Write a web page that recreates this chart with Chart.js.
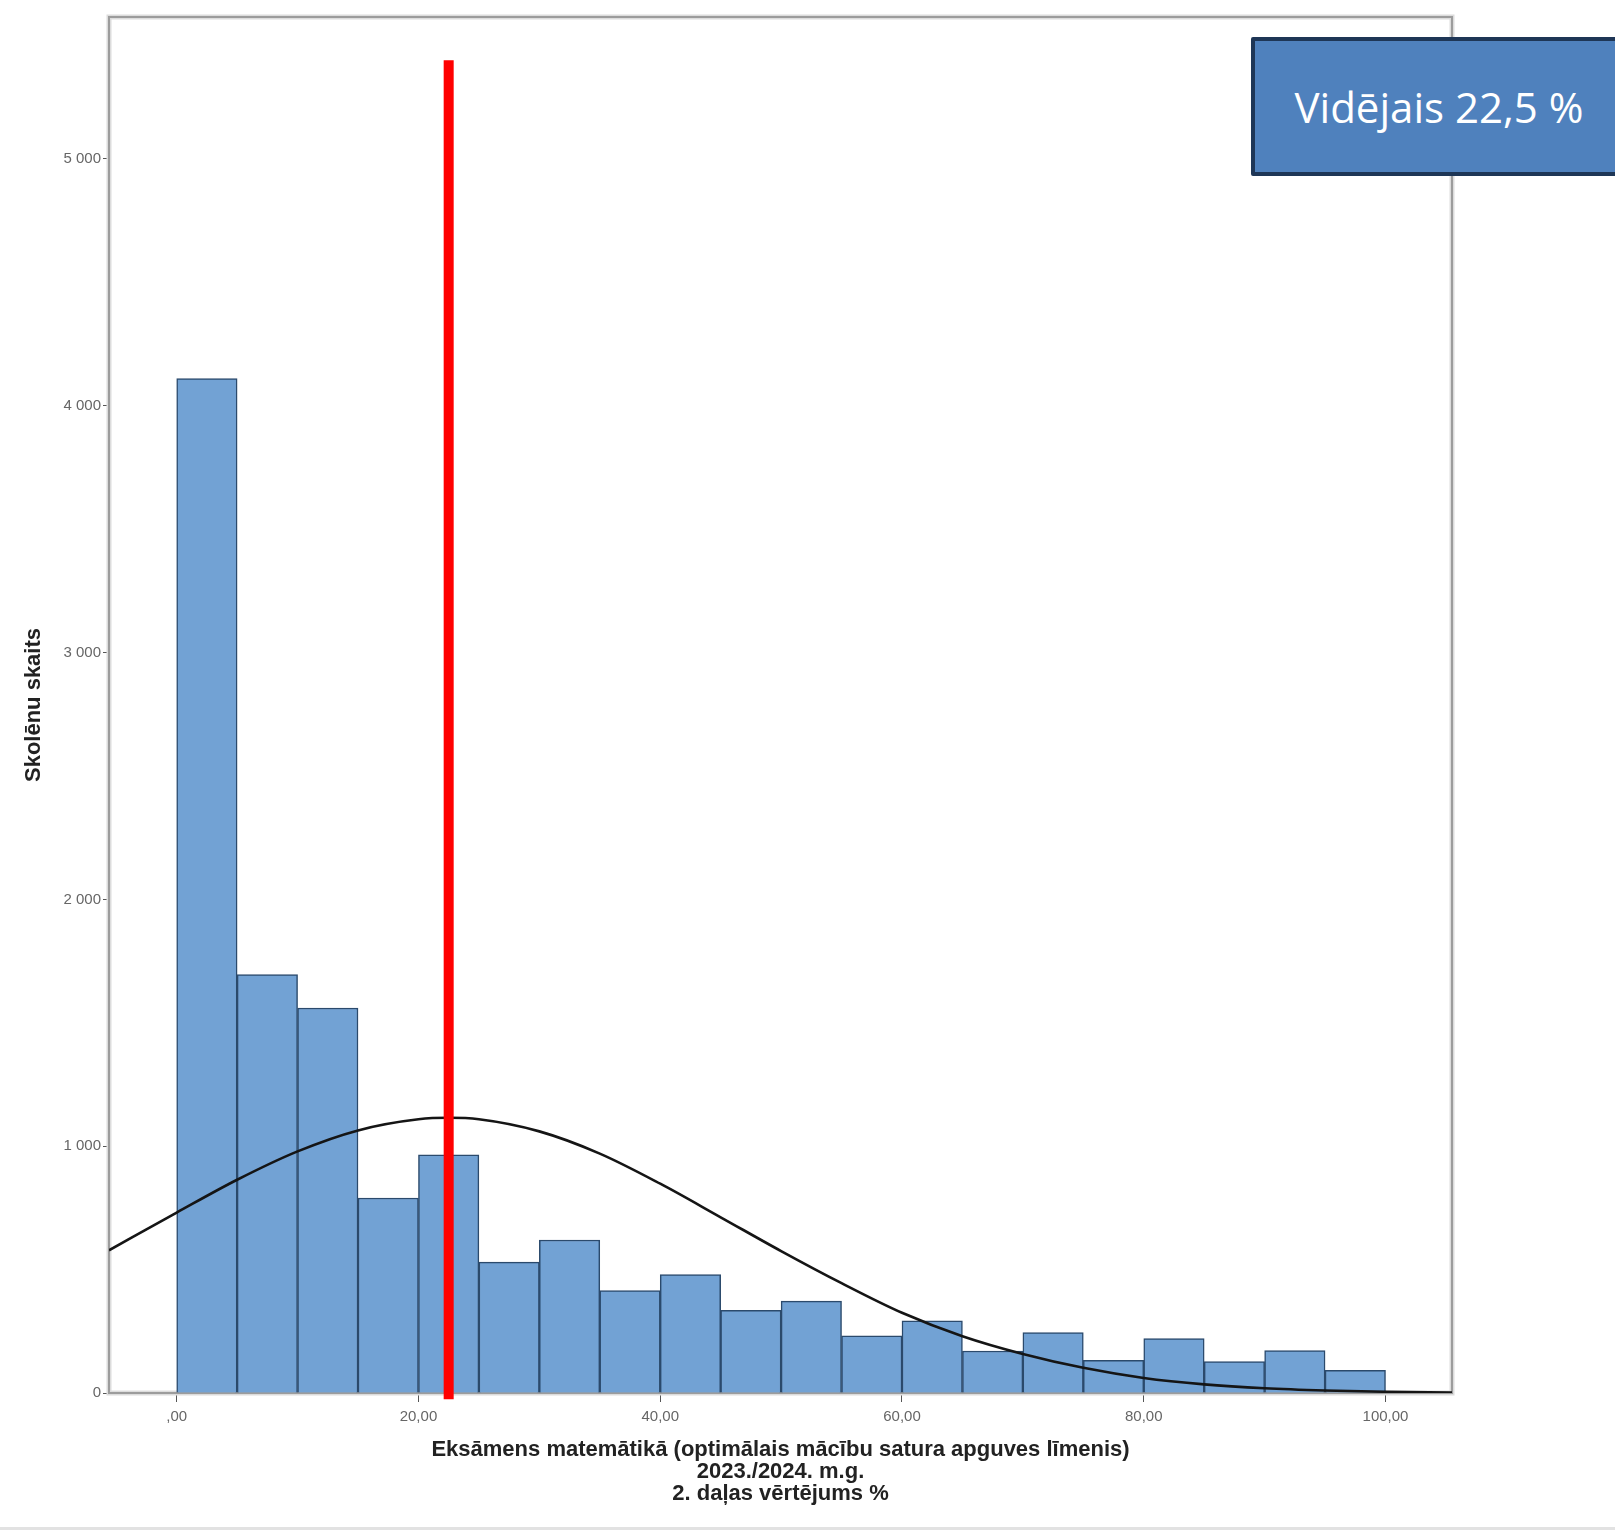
<!DOCTYPE html>
<html lang="lv">
<head>
<meta charset="utf-8">
<title>Eksāmens matemātikā 2023./2024.</title>
<script src="https://cdn.jsdelivr.net/npm/chart.js"></script>
<style>
  body { margin: 0; background: #fff; overflow: hidden; }
  #wrap { position: relative; width: 1615px; height: 1530px; overflow: hidden; }
  #grafiks { position: absolute; left: 0; top: 0; }
  .videjais {
    position: absolute; left: 1251px; top: 37px; width: 376px; height: 139px;
    box-sizing: border-box; background: #4f81bd; border: 4px solid #1e3656;
    border-radius: 2px; color: #fff; font-family: 'Open Sans', sans-serif; font-size: 42px;
    display: flex; align-items: center; justify-content: center;
  }
  .apaksa { position: absolute; left: 0; right: 0; bottom: 0; height: 3px; background: #e2e2e2; }
</style>
</head>
<body>
<div id="wrap">
  <canvas id="grafiks" width="1615" height="1530"></canvas>
  <div class="videjais">Vidējais 22,5 %</div>
  <div class="apaksa"></div>
</div>
<script>
// Histogramma: intervālu sākumi (platums 5) un skolēnu skaits
const intervaluSakumi = [0, 5, 10, 15, 20, 25, 30, 35, 40, 45, 50, 55, 60, 65, 70, 75, 80, 85, 90, 95];
const intervalaPlatums = 5;
const skolenuSkaits = [4110, 1695, 1560, 790, 965, 530, 620, 415, 480, 335, 372, 232, 292, 170, 245, 132, 220, 127, 172, 92];

// Normālā sadalījuma līkne (nolasīta no attēla)
const liknesX = [-5.6, 0, 5, 10, 15, 20, 22.5, 25, 30, 35, 40, 45, 50, 55, 60, 65, 70, 75, 80, 85, 90, 95, 100, 105.5];
const liknesY = [578, 731, 864, 979, 1064, 1109, 1115, 1109, 1060, 970, 848, 712, 575, 445, 325, 230, 158, 102, 61, 35, 19, 10, 5, 2];

// Vidējā vērtība (sarkanā līnija)
const videjais = 22.5;
const sarkanaAugsa = 5400;
const sarkanaApaksa = -25;

// Asis
const xMin = -5.6;
const xMax = 105.5;
const xTicks = [0, 20, 40, 60, 80, 100];
const xTickLabels = [',00', '20,00', '40,00', '60,00', '80,00', '100,00'];
const yMax = 5575;
const yTicks = [0, 1000, 2000, 3000, 4000, 5000];
const yTickLabels = ['0', '1 000', '2 000', '3 000', '4 000', '5 000'];

const xNosaukums = [
    'Eksāmens matemātikā (optimālais mācību satura apguves līmenis)',
    '2023./2024. m.g.',
    '2. daļas vērtējums %'
];
const yNosaukums = 'Skolēnu skaits';

const stabini = intervaluSakumi.map((s, i) => ({ x: s + intervalaPlatums / 2, y: skolenuSkaits[i] }));
const likne = liknesX.map((x, i) => ({ x: x, y: liknesY[i] }));

// Pelēks rāmis ap zīmēšanas laukumu
const ramis = {
    id: 'ramis',
    beforeDatasetsDraw(chart) {
        const { ctx, chartArea: a } = chart;
        ctx.save();
        ctx.strokeStyle = '#dcdcdc';
        ctx.lineWidth = 5;
        ctx.strokeRect(a.left, a.top, a.right - a.left, a.bottom - a.top);
        ctx.strokeStyle = '#9c9c9c';
        ctx.lineWidth = 2;
        ctx.strokeRect(a.left, a.top, a.right - a.left, a.bottom - a.top);
        ctx.restore();
    }
};

const tickFont = { family: 'Liberation Sans', size: 15 };
const titleFont = { family: 'Liberation Sans', size: 22, weight: 'bold', lineHeight: '22px' };

new Chart(document.getElementById('grafiks'), {
    type: 'bar',
    data: {
        datasets: [
            {
                type: 'line',
                data: [{ x: videjais, y: sarkanaAugsa }, { x: videjais, y: sarkanaApaksa }],
                borderColor: '#ff0000',
                borderWidth: 10,
                pointRadius: 0,
                clip: false,
                order: 1
            },
            {
                type: 'line',
                data: likne,
                borderColor: '#151515',
                borderWidth: 2.6,
                pointRadius: 0,
                cubicInterpolationMode: 'monotone',
                order: 2
            },
            {
                type: 'bar',
                data: stabini,
                backgroundColor: '#72a2d4',
                borderColor: '#2b4a6c',
                borderWidth: 1.5,
                barPercentage: 1,
                categoryPercentage: 1,
                order: 3
            }
        ]
    },
    options: {
        responsive: false,
        animation: false,
        devicePixelRatio: 1,
        layout: { padding: { top: 17, right: 163, left: 0, bottom: 0 } },
        plugins: {
            legend: { display: false },
            tooltip: { enabled: false }
        },
        scales: {
            x: {
                type: 'linear',
                min: xMin,
                max: xMax,
                offset: false,
                afterBuildTicks: (s) => { s.ticks = xTicks.map(v => ({ value: v })); },
                afterFit: (s) => { s.height = 137; },
                ticks: {
                    callback: (v, i) => xTickLabels[i],
                    font: tickFont,
                    color: '#666',
                    padding: 6,
                    maxRotation: 0,
                    autoSkip: false
                },
                grid: { offset: false, drawOnChartArea: false, tickLength: 9, color: '#555' },
                border: { color: '#333', width: 2 },
                title: {
                    display: true,
                    text: xNosaukums,
                    font: titleFont,
                    color: '#222',
                    padding: { top: 0, bottom: 25 }
                }
            },
            y: {
                min: 0,
                max: yMax,
                afterBuildTicks: (s) => { s.ticks = yTicks.map(v => ({ value: v })); },
                afterFit: (s) => { s.width = 109; },
                ticks: {
                    callback: (v, i) => yTickLabels[i],
                    font: tickFont,
                    color: '#666',
                    padding: 2
                },
                grid: { drawOnChartArea: false, tickLength: 6, color: '#555' },
                border: { color: '#9c9c9c', width: 2 },
                title: {
                    display: true,
                    text: yNosaukums,
                    font: titleFont,
                    color: '#222',
                    padding: { top: 23, bottom: 0 }
                }
            }
        }
    },
    plugins: [ramis]
});
</script>
</body>
</html>
